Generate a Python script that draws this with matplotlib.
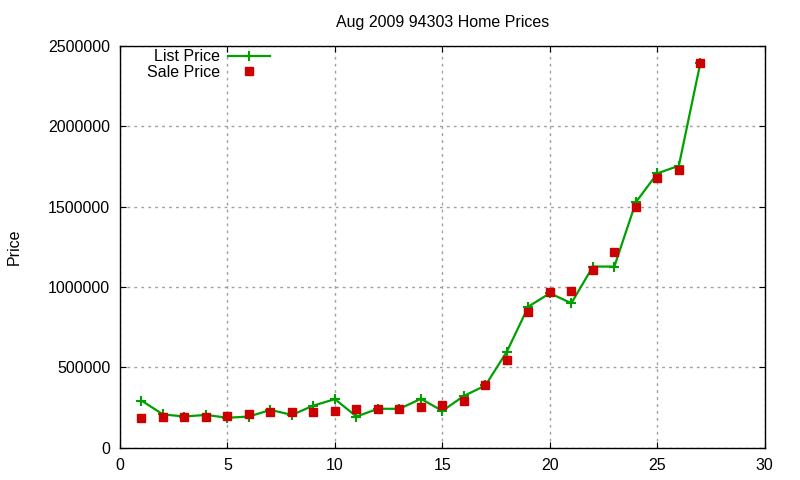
import matplotlib
matplotlib.use('Agg')
import matplotlib.pyplot as plt

plt.rcParams['font.family'] = ['Liberation Sans', 'DejaVu Sans']

# datos
homes = list(range(1, 28))
list_price = [294000, 208000, 195000, 205000, 187000, 195000, 236000, 205000,
              263000, 303000, 195000, 243000, 243000, 305000, 230000, 323000,
              388000, 599000, 879000, 962000, 900000, 1128000, 1128000,
              1528000, 1708000, 1755000, 2394000]
sale_price = [187000, 195000, 193000, 195000, 199000, 213000, 220000, 226000,
              226000, 232000, 243000, 243000, 243000, 257000, 267000, 294000,
              388000, 549000, 848000, 972000, 978000, 1107000, 1221000,
              1501000, 1682000, 1732000, 2394000]

fig = plt.figure(figsize=(8, 4.8), dpi=100)
ax = fig.add_axes([0.15, 0.067, 0.806, 0.837])

ax.plot(homes, list_price, color='#00a000', lw=1.6, marker='+', ms=7, mew=1.5,
        label='List Price')
ax.plot(homes, sale_price, ls='none', marker='s', ms=6, color='#cc0000',
        label='Sale Price')

ax.set_xlim(0, 30)
ax.set_ylim(0, 2500000)
ax.set_xticks(range(0, 31, 5))
ax.set_yticks(range(0, 2500001, 500000))
ax.ticklabel_format(style='plain', axis='y')
ax.grid(True, color='#a0a0a0', ls=(0, (2, 3)), lw=1)
ax.tick_params(direction='in', top=True, right=True, labelsize=11.5, length=4,
               pad=7)
for s in ax.spines.values():
    s.set_linewidth(1)

ax.set_title('Aug 2009 94303 Home Prices', fontsize=11.5, pad=14)
ax.set_ylabel('Price', fontsize=11.5)
ax.yaxis.set_label_coords(-0.153, 0.5)

ax.legend(loc='upper left', bbox_to_anchor=(0.025, 1.02), frameon=False,
          markerfirst=False, fontsize=11.5, handlelength=2.6, labelspacing=0.05,
          borderaxespad=0.3, handletextpad=0.5)

plt.savefig('out.png')
